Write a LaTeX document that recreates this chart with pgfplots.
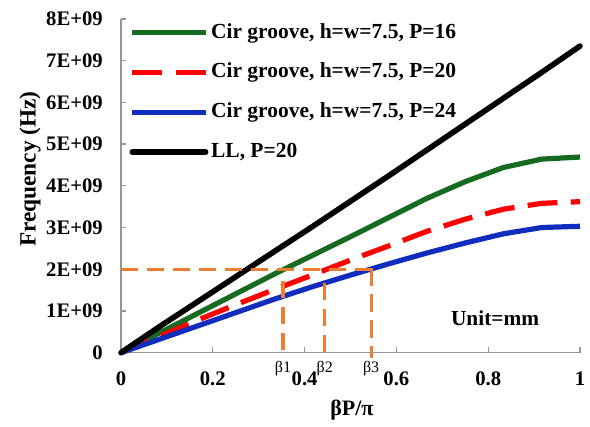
\documentclass[border=0pt]{standalone}
\usepackage{fontspec}
\setmainfont{Liberation Serif}
\usepackage{pgfplots}
\pgfplotsset{compat=1.18}

\definecolor{cgreen}{RGB}{22,107,33}
\definecolor{cblue}{RGB}{16,45,190}
\definecolor{corange}{RGB}{237,125,49}
\definecolor{axgray}{RGB}{150,150,150}

\begin{document}
\begin{tikzpicture}
\begin{axis}[
  scale only axis,
  width=344.25pt, height=250.3pt,
  xmin=0, xmax=1, ymin=0, ymax=8e9,
  axis x line=bottom, axis y line=left,
  axis line style={-, axgray, line width=1pt},
  tick style={axgray, line width=1pt},
  tick align=inside, major tick length=4pt,
  xtick={0,0.2,0.4,0.6,0.8,1},
  xticklabels={0,0.2,0.4,0.6,0.8,1},
  ytick={0,1e9,2e9,3e9,4e9,5e9,6e9,7e9,8e9},
  yticklabels={0,1E+09,2E+09,3E+09,4E+09,5E+09,6E+09,7E+09,8E+09},
  scaled y ticks=false,
  ticklabel style={font=\bfseries\fontsize{15.5}{18}\selectfont},
  xticklabel style={anchor=center, yshift=-19.5pt},
  yticklabel style={anchor=east, inner sep=0pt, xshift=-13.5pt},
  xlabel={βP/π},
  ylabel={Frequency (Hz)},
  label style={font=\bfseries\fontsize{16.5}{19}\selectfont},
  xlabel style={at={(axis description cs:0.503,-0.172)}, anchor=center},
  ylabel style={at={(axis description cs:-0.198,0.55)}, anchor=center,
    font=\bfseries\fontsize{17.5}{20}\selectfont},
  clip=false,
  legend cell align=left,
  legend image code/.code={\draw[#1] (0pt,0pt) -- (55pt,0pt);},
  legend style={draw=none, fill=none, at={(0.018,0.995)}, anchor=north west,
    inner sep=0pt, row sep=11.8pt,
    font=\bfseries\fontsize{16.1}{18}\selectfont,
    nodes={inner sep=2pt, text height=11pt, text depth=3pt}},
]
\addplot[cgreen, line width=3.9pt] coordinates {
  (0,0) (0.0833,0.47e9) (0.1667,0.94e9) (0.25,1.41e9) (0.3333,1.88e9)
  (0.4167,2.33e9) (0.5,2.78e9) (0.5833,3.24e9) (0.6667,3.70e9) (0.75,4.10e9)
  (0.8333,4.44e9) (0.9167,4.64e9) (1,4.69e9)};
\addlegendentry{Cir groove, h=w=7.5, P=16}
\addplot[red, line width=3.9pt, dash pattern=on 22.5pt off 10pt] coordinates {
  (0,0) (0.0833,0.39e9) (0.1667,0.78e9) (0.25,1.15e9) (0.3333,1.51e9)
  (0.4167,1.86e9) (0.5,2.22e9) (0.5833,2.56e9) (0.6667,2.91e9) (0.75,3.20e9)
  (0.8333,3.44e9) (0.9167,3.58e9) (1,3.62e9)};
\addlegendentry{Cir groove, h=w=7.5, P=20}
\addplot[cblue, line width=3.9pt] coordinates {
  (0,0) (0.0833,0.32e9) (0.1667,0.64e9) (0.25,0.96e9) (0.3333,1.28e9)
  (0.4167,1.58e9) (0.5,1.86e9) (0.5833,2.13e9) (0.6667,2.39e9) (0.75,2.63e9)
  (0.8333,2.85e9) (0.9167,3.00e9) (1,3.03e9)};
\addlegendentry{Cir groove, h=w=7.5, P=24}
\addplot[black, line width=4.2pt, line cap=round] coordinates {
  (0,0) (0.0833,0.62e9) (0.1667,1.22e9) (0.25,1.82e9) (0.3333,2.42e9)
  (0.4167,3.02e9) (0.5,3.63e9) (0.5833,4.24e9) (0.6667,4.86e9) (0.75,5.48e9)
  (0.8333,6.10e9) (0.9167,6.72e9) (1,7.35e9)};
\addlegendentry{LL, P=20}

% orange guide lines
\draw[corange, line width=2.4pt, dash pattern=on 13pt off 6.5pt]
  (axis cs:0,2e9) -- (axis cs:0.545,2e9);
\draw[corange, line width=2.4pt, dash pattern=on 13pt off 6.5pt]
  (axis cs:0.353,1.72e9) -- (axis cs:0.353,-0.13e9);
\draw[corange, line width=2.4pt, dash pattern=on 13pt off 6.5pt]
  (axis cs:0.444,1.68e9) -- (axis cs:0.444,-0.13e9);
\draw[corange, line width=2.4pt, dash pattern=on 13pt off 6.5pt]
  (axis cs:0.545,2.02e9) -- (axis cs:0.545,-0.13e9);
\node[font=\fontsize{12}{14}\selectfont] at (axis cs:0.353,0) [yshift=-12pt] {β1};
\node[font=\fontsize{12}{14}\selectfont] at (axis cs:0.444,0) [yshift=-12pt] {β2};
\node[font=\fontsize{12}{14}\selectfont] at (axis cs:0.545,0) [yshift=-12pt] {β3};

\node[font=\bfseries\fontsize{16}{18}\selectfont] at (axis cs:0.815,0.83e9) {Unit=mm};
\end{axis}
\pgfresetboundingbox
\path ([xshift=-90.75pt,yshift=-55pt]current axis.south west)
  rectangle ([xshift=351.75pt,yshift=264.5pt]current axis.south west);
\end{tikzpicture}
\end{document}
